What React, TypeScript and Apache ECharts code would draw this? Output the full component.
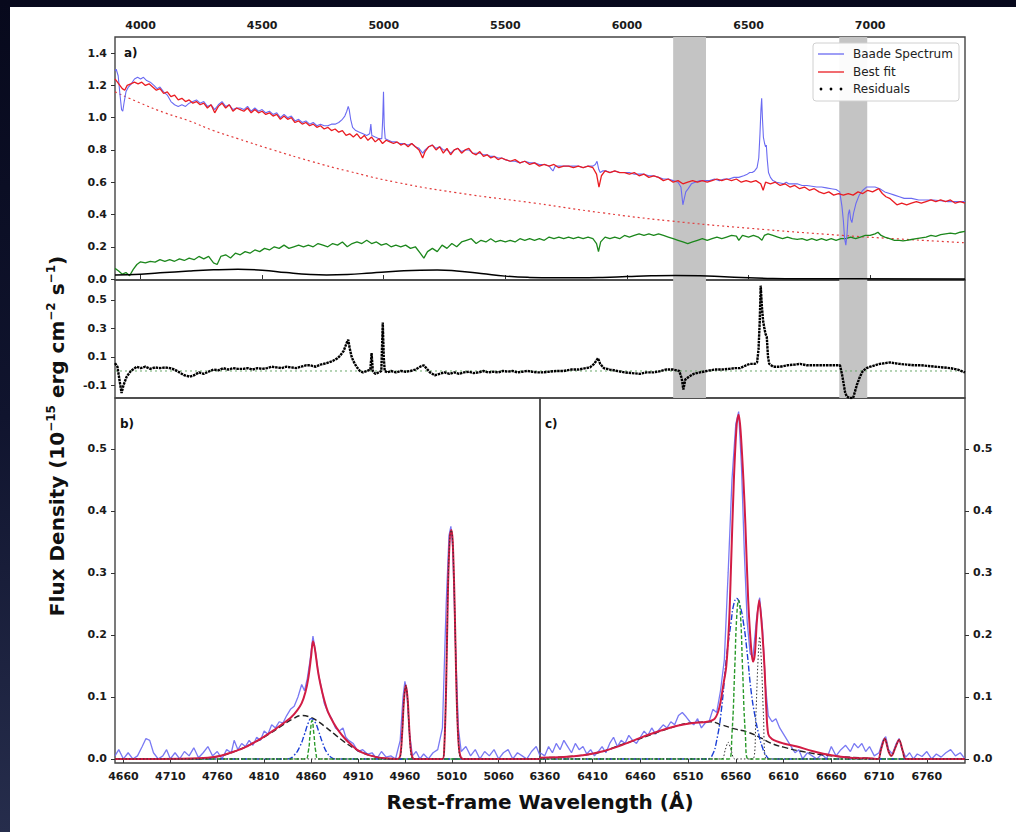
import React, { useEffect, useRef } from "react";
import * as echarts from "echarts";

const FONT = "DejaVu Sans";

// ---------- Panel a) : full spectrum ----------
const topTicksA = [4000, 4500, 5000, 5500, 6000, 6500, 7000];
const yTicksA = [0.0, 0.2, 0.4, 0.6, 0.8, 1.0, 1.2, 1.4];
const telluricBands = [[6190, 6325], [6873, 6988]];

const baadeA: number[][] = [
  [3895,1.29],[3900,1.30],[3908,1.26],[3915,1.15],[3922,1.05],[3927,1.04],[3933,1.10],[3940,1.16],[3950,1.19],[3962,1.21],
  [3975,1.24],[3988,1.25],[4000,1.24],[4012,1.25],[4025,1.23],[4040,1.22],[4055,1.20],[4068,1.18],[4080,1.19],[4095,1.16],
  [4110,1.14],[4125,1.10],[4140,1.08],[4155,1.07],[4170,1.08],[4185,1.07],[4200,1.09],[4215,1.10],[4230,1.11],[4245,1.09],
  [4260,1.10],[4275,1.07],[4290,1.08],[4305,1.05],[4320,1.08],[4335,1.10],[4350,1.07],[4365,1.08],[4380,1.05],[4395,1.06],
  [4410,1.06],[4425,1.05],[4440,1.07],[4455,1.04],[4470,1.06],[4485,1.04],[4500,1.05],[4515,1.03],[4530,1.04],[4545,1.02],
  [4560,1.03],[4575,1.00],[4590,1.02],[4605,1.00],[4620,1.01],[4635,0.98],[4650,0.99],[4665,0.97],[4680,0.98],[4695,0.96],
  [4710,0.97],[4725,0.95],[4740,0.96],[4755,0.95],[4770,0.95],[4785,0.96],[4800,0.96],[4815,0.97],[4830,0.99],[4840,1.01],
  [4848,1.04],[4854,1.07],[4858,1.05],[4864,0.99],[4872,0.94],[4885,0.92],[4900,0.91],[4915,0.90],[4930,0.89],[4942,0.90],
  [4947,0.96],[4951,0.89],[4965,0.88],[4980,0.87],[4992,0.87],[4996,1.00],[4999,1.16],[5002,0.95],[5006,0.87],[5020,0.86],
  [5035,0.85],[5050,0.85],[5065,0.84],[5080,0.84],[5100,0.83],[5115,0.84],[5130,0.82],[5145,0.81],[5160,0.78],[5170,0.80],
  [5185,0.82],[5200,0.83],[5215,0.81],[5230,0.82],[5245,0.80],[5260,0.80],[5275,0.78],[5290,0.80],[5305,0.81],[5320,0.79],
  [5335,0.80],[5350,0.80],[5365,0.78],[5380,0.78],[5395,0.78],[5410,0.77],[5425,0.77],[5440,0.76],[5455,0.76],[5470,0.75],
  [5485,0.75],[5500,0.74],[5520,0.73],[5540,0.73],[5560,0.72],[5580,0.73],[5600,0.72],[5620,0.72],[5640,0.71],[5660,0.71],
  [5680,0.70],[5690,0.68],[5696,0.67],[5705,0.70],[5720,0.70],[5740,0.70],[5760,0.70],[5780,0.70],[5800,0.70],[5820,0.69],
  [5840,0.70],[5860,0.70],[5870,0.71],[5877,0.73],[5884,0.68],[5890,0.66],[5900,0.67],[5915,0.67],[5930,0.66],[5950,0.67],
  [5970,0.66],[5990,0.66],[6010,0.66],[6030,0.65],[6050,0.65],[6070,0.65],[6090,0.64],[6110,0.64],[6130,0.63],[6150,0.62],
  [6170,0.62],[6190,0.61],[6210,0.60],[6222,0.57],[6230,0.46],[6236,0.50],[6242,0.54],[6252,0.56],[6265,0.59],[6280,0.60],
  [6300,0.61],[6320,0.61],[6340,0.61],[6360,0.62],[6380,0.61],[6400,0.62],[6420,0.62],[6440,0.63],[6460,0.63],[6480,0.64],
  [6495,0.65],[6505,0.66],[6515,0.66],[6525,0.67],[6535,0.69],[6542,0.75],[6547,0.90],[6551,1.05],[6554,1.12],[6557,1.00],
  [6561,0.88],[6566,0.84],[6570,0.82],[6573,0.83],[6577,0.74],[6582,0.66],[6590,0.63],[6600,0.61],[6615,0.60],[6630,0.595],
  [6645,0.59],[6655,0.60],[6665,0.59],[6680,0.59],[6700,0.59],[6720,0.58],[6740,0.58],[6760,0.575],[6780,0.57],[6800,0.57],
  [6820,0.565],[6840,0.56],[6860,0.555],[6875,0.54],[6884,0.45],[6890,0.36],[6895,0.25],[6900,0.21],[6905,0.28],[6910,0.40],
  [6915,0.43],[6920,0.37],[6925,0.35],[6932,0.41],[6942,0.47],[6955,0.52],[6970,0.55],[6985,0.57],[7000,0.57],[7020,0.57],
  [7040,0.56],[7060,0.54],[7080,0.53],[7100,0.52],[7120,0.51],[7140,0.50],[7170,0.50],[7200,0.49],[7230,0.49],[7260,0.49],
  [7290,0.485],[7320,0.48],[7350,0.48],[7390,0.48]
];

const bestFitA: number[][] = [
  [3895,1.24],[3905,1.22],[3915,1.20],[3925,1.18],[3935,1.17],[3945,1.20],[3960,1.21],[3975,1.22],[3990,1.21],[4005,1.22],
  [4020,1.20],[4035,1.21],[4050,1.19],[4065,1.17],[4080,1.18],[4095,1.15],[4110,1.16],[4125,1.13],[4140,1.14],[4155,1.11],
  [4170,1.12],[4185,1.10],[4200,1.11],[4215,1.09],[4230,1.10],[4245,1.08],[4260,1.09],[4275,1.06],[4290,1.08],[4305,1.03],
  [4320,1.07],[4335,1.09],[4350,1.06],[4365,1.08],[4380,1.04],[4395,1.06],[4410,1.05],[4425,1.04],[4440,1.06],[4455,1.03],
  [4470,1.05],[4485,1.03],[4500,1.04],[4515,1.02],[4530,1.03],[4545,1.01],[4560,1.02],[4575,0.99],[4590,1.01],[4605,0.99],
  [4620,1.00],[4635,0.97],[4650,0.98],[4665,0.96],[4680,0.97],[4695,0.95],[4710,0.96],[4725,0.94],[4740,0.95],[4755,0.93],
  [4770,0.94],[4785,0.92],[4800,0.93],[4815,0.91],[4830,0.92],[4845,0.89],[4860,0.90],[4875,0.88],[4890,0.90],[4905,0.87],
  [4920,0.89],[4935,0.86],[4950,0.88],[4965,0.85],[4980,0.87],[4995,0.84],[5010,0.86],[5025,0.85],[5040,0.84],[5055,0.85],
  [5070,0.83],[5085,0.84],[5100,0.82],[5115,0.84],[5130,0.82],[5145,0.80],[5160,0.75],[5170,0.79],[5185,0.82],[5200,0.83],
  [5215,0.80],[5230,0.82],[5245,0.78],[5260,0.81],[5275,0.77],[5290,0.80],[5305,0.81],[5320,0.78],[5335,0.80],[5350,0.81],
  [5365,0.78],[5380,0.77],[5395,0.79],[5410,0.76],[5425,0.77],[5440,0.75],[5455,0.76],[5470,0.74],[5485,0.75],[5500,0.74],
  [5520,0.73],[5540,0.74],[5560,0.72],[5580,0.73],[5600,0.71],[5620,0.72],[5640,0.70],[5660,0.71],[5680,0.70],[5700,0.71],
  [5720,0.69],[5740,0.70],[5760,0.70],[5780,0.69],[5800,0.70],[5820,0.69],[5840,0.70],[5860,0.69],[5875,0.65],[5885,0.57],
  [5895,0.64],[5910,0.67],[5930,0.66],[5950,0.67],[5970,0.66],[5990,0.66],[6010,0.65],[6030,0.66],[6050,0.64],[6070,0.65],
  [6090,0.63],[6110,0.64],[6130,0.63],[6150,0.61],[6170,0.62],[6190,0.60],[6210,0.61],[6230,0.59],[6250,0.60],[6270,0.61],
  [6290,0.60],[6310,0.61],[6330,0.60],[6350,0.61],[6370,0.62],[6390,0.61],[6410,0.62],[6430,0.61],[6450,0.62],[6470,0.60],
  [6490,0.61],[6510,0.60],[6530,0.61],[6550,0.59],[6560,0.55],[6570,0.60],[6590,0.59],[6610,0.60],[6630,0.58],[6650,0.59],
  [6670,0.57],[6690,0.58],[6710,0.56],[6730,0.57],[6750,0.55],[6770,0.56],[6790,0.54],[6810,0.53],[6830,0.54],[6850,0.52],
  [6870,0.53],[6890,0.52],[6910,0.53],[6930,0.52],[6950,0.54],[6970,0.53],[6990,0.55],[7010,0.54],[7035,0.56],[7050,0.53],
  [7065,0.51],[7080,0.50],[7095,0.48],[7110,0.46],[7130,0.47],[7150,0.46],[7170,0.47],[7190,0.48],[7210,0.47],[7230,0.48],
  [7250,0.49],[7270,0.48],[7290,0.49],[7310,0.48],[7330,0.49],[7350,0.47],[7370,0.48],[7390,0.47]
];

const powerLawA: number[][] = [
  [3895,1.16],[4000,1.09],[4100,1.03],[4200,0.98],[4300,0.92],[4400,0.87],[4545,0.80],[4700,0.73],[4850,0.67],[5050,0.60],
  [5300,0.535],[5622,0.47],[5900,0.41],[6177,0.36],[6500,0.315],[6888,0.27],[7100,0.25],[7390,0.225]
];

const hostA: number[][] = [
  [3895,0.066],[3910,0.05],[3925,0.03],[3940,0.04],[3955,0.02],[3970,0.06],[3985,0.09],[4000,0.107],[4020,0.10],[4040,0.11],
  [4060,0.105],[4080,0.12],[4100,0.11],[4120,0.12],[4140,0.11],[4160,0.125],[4180,0.115],[4200,0.13],[4220,0.12],[4240,0.14],
  [4260,0.125],[4280,0.14],[4300,0.10],[4315,0.09],[4330,0.14],[4350,0.15],[4370,0.13],[4390,0.16],[4410,0.15],[4430,0.17],
  [4450,0.16],[4470,0.18],[4490,0.17],[4510,0.19],[4530,0.18],[4550,0.20],[4570,0.19],[4590,0.21],[4610,0.19],[4630,0.20],
  [4650,0.21],[4670,0.20],[4690,0.21],[4710,0.20],[4730,0.22],[4750,0.21],[4770,0.20],[4790,0.22],[4810,0.21],[4830,0.23],
  [4850,0.20],[4870,0.22],[4890,0.23],[4910,0.22],[4930,0.24],[4950,0.22],[4970,0.23],[4990,0.21],[5010,0.22],[5030,0.20],
  [5050,0.21],[5070,0.20],[5090,0.21],[5110,0.19],[5130,0.20],[5150,0.16],[5165,0.13],[5180,0.17],[5200,0.19],[5220,0.17],
  [5240,0.21],[5260,0.19],[5280,0.22],[5300,0.20],[5320,0.23],[5340,0.24],[5360,0.25],[5380,0.22],[5400,0.24],[5420,0.23],
  [5440,0.25],[5460,0.23],[5480,0.24],[5500,0.23],[5520,0.24],[5540,0.23],[5560,0.25],[5580,0.24],[5600,0.25],[5620,0.24],
  [5640,0.25],[5660,0.24],[5680,0.26],[5700,0.25],[5720,0.26],[5740,0.25],[5760,0.26],[5780,0.25],[5800,0.26],[5820,0.25],
  [5840,0.26],[5860,0.25],[5875,0.22],[5883,0.17],[5892,0.23],[5910,0.26],[5930,0.25],[5950,0.26],[5970,0.25],[5990,0.27],
  [6010,0.26],[6030,0.27],[6050,0.28],[6070,0.27],[6090,0.28],[6110,0.27],[6130,0.28],[6150,0.27],[6170,0.26],[6190,0.25],
  [6210,0.24],[6230,0.23],[6250,0.22],[6270,0.23],[6290,0.24],[6310,0.25],[6330,0.24],[6350,0.25],[6370,0.26],[6390,0.25],
  [6410,0.26],[6430,0.27],[6450,0.266],[6460,0.24],[6475,0.27],[6500,0.26],[6520,0.27],[6540,0.26],[6555,0.24],[6565,0.27],
  [6580,0.28],[6600,0.27],[6620,0.26],[6640,0.25],[6660,0.26],[6680,0.25],[6700,0.246],[6720,0.25],[6740,0.24],[6760,0.25],
  [6780,0.24],[6800,0.25],[6820,0.24],[6840,0.25],[6860,0.24],[6880,0.25],[6900,0.25],[6920,0.26],[6940,0.25],[6960,0.26],
  [6980,0.27],[7000,0.27],[7020,0.28],[7032,0.29],[7045,0.27],[7060,0.26],[7080,0.25],[7100,0.24],[7120,0.24],[7135,0.237],
  [7150,0.24],[7170,0.245],[7190,0.25],[7210,0.255],[7230,0.26],[7250,0.27],[7270,0.265],[7290,0.275],[7310,0.28],[7330,0.285],
  [7350,0.28],[7370,0.29],[7390,0.295]
];

const feiiA: number[][] = [
  [3895,0.025],[4000,0.03],[4100,0.04],[4200,0.05],[4300,0.057],[4400,0.06],[4500,0.055],[4600,0.04],[4700,0.028],[4765,0.025],
  [4850,0.028],[4950,0.038],[5050,0.048],[5150,0.055],[5220,0.056],[5300,0.05],[5400,0.035],[5500,0.018],[5600,0.01],[5700,0.008],
  [5800,0.008],[5900,0.01],[6000,0.015],[6100,0.02],[6200,0.022],[6300,0.02],[6400,0.014],[6500,0.008],[6600,0.004],[6700,0.002],
  [6900,0.001],[7390,0.0]
];

// ---------- Residuals ----------
const residTicks = [-0.1, 0.1, 0.3, 0.5];
const residuals: number[][] = [
  [3895,0.055],[3905,0.03],[3915,-0.08],[3922,-0.155],[3930,-0.10],[3943,-0.04],[3960,0.0],[3984,0.03],[4000,0.02],[4020,0.03],
  [4040,0.015],[4060,0.025],[4080,0.02],[4100,0.025],[4121,0.02],[4140,0.01],[4160,-0.01],[4180,-0.03],[4203,-0.04],[4220,-0.03],
  [4240,-0.01],[4260,-0.02],[4286,0.0],[4300,0.01],[4320,0.005],[4340,0.02],[4360,0.01],[4380,0.02],[4400,0.015],[4422,0.015],
  [4440,0.02],[4460,0.01],[4480,0.02],[4500,0.015],[4520,0.02],[4540,0.03],[4560,0.025],[4580,0.02],[4600,0.03],[4620,0.025],
  [4640,0.02],[4660,0.03],[4680,0.04],[4697,0.04],[4720,0.03],[4740,0.045],[4765,0.055],[4790,0.07],[4810,0.09],[4820,0.107],
  [4835,0.14],[4848,0.20],[4854,0.22],[4860,0.16],[4868,0.10],[4875,0.07],[4888,0.03],[4902,0.0],[4915,-0.01],[4930,0.0],
  [4945,0.01],[4950,0.126],[4955,0.0],[4965,-0.02],[4980,-0.01],[4990,0.0],[4996,0.34],[5000,0.10],[5004,0.0],[5015,-0.01],
  [5030,0.0],[5050,-0.01],[5070,0.0],[5090,-0.005],[5110,0.0],[5130,0.01],[5150,0.03],[5165,0.04],[5175,0.02],[5190,-0.01],
  [5210,-0.03],[5230,-0.02],[5250,-0.01],[5270,-0.02],[5290,-0.01],[5310,-0.02],[5330,-0.01],[5350,-0.005],[5370,-0.015],[5390,-0.01],
  [5410,0.0],[5430,-0.01],[5450,-0.005],[5470,-0.01],[5490,0.0],[5510,-0.005],[5530,0.0],[5550,-0.01],[5570,-0.005],[5590,0.0],
  [5610,-0.005],[5630,-0.01],[5650,-0.01],[5680,-0.005],[5710,0.0],[5740,0.0],[5770,0.01],[5800,0.01],[5830,0.02],[5848,0.025],
  [5865,0.05],[5881,0.09],[5890,0.05],[5905,0.02],[5930,0.01],[5960,0.0],[5990,-0.01],[6020,-0.015],[6054,-0.02],[6080,-0.01],
  [6110,-0.01],[6140,0.0],[6160,0.01],[6190,0.01],[6215,0.0],[6225,-0.05],[6232,-0.13],[6240,-0.06],[6255,-0.04],[6275,-0.02],
  [6300,-0.01],[6328,0.0],[6360,0.01],[6390,0.01],[6420,0.015],[6445,0.02],[6465,0.02],[6490,0.04],[6505,0.05],[6525,0.05],
  [6535,0.06],[6541,0.15],[6546,0.35],[6550,0.60],[6555,0.45],[6560,0.35],[6565,0.30],[6570,0.26],[6575,0.24],[6580,0.10],
  [6585,0.05],[6601,0.03],[6630,0.03],[6660,0.04],[6690,0.045],[6712,0.05],[6740,0.04],[6770,0.04],[6800,0.04],[6830,0.04],
  [6860,0.04],[6876,0.04],[6884,-0.02],[6890,-0.08],[6897,-0.15],[6904,-0.18],[6915,-0.19],[6930,-0.19],[6945,-0.10],[6958,-0.04],
  [6970,0.0],[6985,0.02],[7000,0.03],[7020,0.04],[7040,0.05],[7060,0.055],[7082,0.06],[7100,0.055],[7120,0.05],[7150,0.045],
  [7180,0.04],[7210,0.04],[7240,0.035],[7270,0.03],[7300,0.025],[7330,0.02],[7360,0.01],[7390,-0.01]
];
const residZero: number[][] = [[3895,0],[7390,0]];

// ---------- Panel b) : Hbeta + [OIII] ----------
const xTicksB = [4660, 4710, 4760, 4810, 4860, 4910, 4960, 5010, 5060];
const yTicksBC = [0.0, 0.1, 0.2, 0.3, 0.4, 0.5];
const specB: number[][] = [
  [4651,0.005],[4655,0.015],[4660,0.0],[4665,0.01],[4670,0.0],[4675,0.005],[4680,0.02],[4684,0.033],[4688,0.03],[4692,0.01],
  [4697,0.0],[4702,0.005],[4706,0.015],[4710,0.0],[4715,0.01],[4720,0.0],[4725,0.012],[4730,0.005],[4735,0.018],[4740,0.002],
  [4745,0.01],[4750,0.02],[4755,0.005],[4760,0.012],[4765,0.0],[4770,0.015],[4775,0.01],[4778,0.03],[4782,0.015],[4786,0.025],
  [4790,0.02],[4794,0.03],[4798,0.022],[4802,0.035],[4806,0.03],[4810,0.045],[4814,0.04],[4818,0.055],[4822,0.05],[4826,0.06],
  [4830,0.058],[4834,0.07],[4838,0.08],[4842,0.085],[4846,0.10],[4850,0.12],[4853,0.11],[4856,0.13],[4859,0.16],[4862,0.198],
  [4865,0.17],[4868,0.135],[4871,0.115],[4874,0.09],[4878,0.075],[4882,0.065],[4886,0.05],[4890,0.045],[4894,0.05],[4897,0.035],
  [4900,0.03],[4905,0.025],[4910,0.012],[4915,0.015],[4920,0.008],[4925,0.01],[4930,0.0],[4935,0.012],[4940,0.003],[4945,0.005],
  [4950,0.0],[4955,0.03],[4958,0.10],[4960,0.125],[4962,0.11],[4965,0.04],[4968,0.005],[4972,0.012],[4976,0.0],[4980,0.008],
  [4985,0.0],[4990,0.01],[4995,0.015],[5000,0.05],[5004,0.25],[5007,0.36],[5009,0.375],[5011,0.34],[5014,0.18],[5017,0.05],
  [5020,0.012],[5025,0.02],[5030,0.005],[5035,0.015],[5040,0.0],[5045,0.012],[5050,0.005],[5055,0.015],[5060,0.0],[5065,0.01],
  [5070,0.015],[5075,0.0],[5080,0.01],[5085,0.005],[5090,0.0],[5095,0.012],[5100,0.02],[5104,0.005]
];
const fitB: number[][] = [
  [4651,0],[4700,0],[4740,0.001],[4760,0.004],[4770,0.008],[4780,0.013],[4790,0.019],[4800,0.027],[4810,0.036],[4820,0.046],
  [4830,0.057],[4838,0.066],[4845,0.078],[4850,0.090],[4854,0.108],[4857,0.13],[4860,0.165],[4862,0.19],[4864,0.178],[4867,0.145],
  [4870,0.12],[4874,0.095],[4878,0.076],[4884,0.058],[4890,0.044],[4896,0.033],[4902,0.024],[4910,0.014],[4920,0.007],[4930,0.003],
  [4940,0.001],[4952,0],[4955,0.005],[4957,0.04],[4959,0.095],[4961,0.119],[4963,0.095],[4965,0.04],[4967,0.008],[4970,0],
  [5000,0],[5002,0.02],[5004,0.12],[5006,0.28],[5008,0.36],[5009.5,0.369],[5011,0.35],[5013,0.25],[5015,0.11],[5017,0.03],
  [5019,0.005],[5022,0],[5104,0]
];
const broadB: number[][] = [
  [4651,0],[4740,0.0],[4760,0.004],[4780,0.013],[4800,0.027],[4815,0.04],[4830,0.055],[4840,0.064],[4850,0.07],[4858,0.068],
  [4866,0.062],[4875,0.052],[4885,0.04],[4895,0.028],[4905,0.018],[4915,0.01],[4930,0.003],[4945,0.0],[5104,0]
];
const interB: number[][] = [
  [4651,0],[4835,0],[4842,0.006],[4848,0.02],[4853,0.04],[4857,0.058],[4860,0.065],[4864,0.06],[4868,0.045],[4872,0.027],
  [4877,0.01],[4882,0.002],[4886,0],[5104,0]
];
const narrowB: number[][] = [
  [4651,0],[4854,0],[4857,0.012],[4859,0.04],[4861,0.062],[4863,0.04],[4865,0.012],[4868,0],[5104,0]
];
const oiiiB: number[][] = [
  [4651,0],[4953,0],[4957,0.04],[4959,0.095],[4961,0.119],[4963,0.095],[4965,0.04],[4969,0],[5000,0],[5002,0.02],
  [5004,0.12],[5006,0.28],[5008,0.36],[5009.5,0.369],[5011,0.35],[5013,0.25],[5015,0.11],[5017,0.03],[5021,0],[5104,0]
];

// ---------- Panel c) : Halpha + [NII] + [SII] ----------
const xTicksC = [6360, 6410, 6460, 6510, 6560, 6610, 6660, 6710, 6760];
const specC: number[][] = [
  [6355,0.01],[6360,0.005],[6364,0.02],[6368,0.01],[6372,0.025],[6376,0.015],[6380,0.03],[6384,0.02],[6388,0.01],[6392,0.025],
  [6396,0.015],[6400,0.02],[6404,0.008],[6408,0.015],[6412,0.005],[6416,0.012],[6420,0.02],[6424,0.01],[6428,0.025],[6432,0.035],
  [6436,0.02],[6440,0.03],[6444,0.025],[6448,0.038],[6452,0.03],[6456,0.025],[6460,0.035],[6464,0.045],[6468,0.038],[6472,0.05],
  [6476,0.04],[6480,0.048],[6484,0.055],[6488,0.05],[6492,0.06],[6496,0.055],[6500,0.07],[6504,0.075],[6508,0.068],[6512,0.06],
  [6516,0.055],[6520,0.065],[6524,0.05],[6528,0.058],[6532,0.06],[6536,0.08],[6540,0.075],[6544,0.11],[6548,0.16],[6552,0.30],
  [6556,0.45],[6560,0.54],[6563,0.56],[6566,0.47],[6569,0.33],[6572,0.22],[6575,0.17],[6578,0.165],[6582,0.23],[6585,0.26],
  [6588,0.21],[6591,0.12],[6594,0.07],[6598,0.06],[6602,0.065],[6606,0.05],[6610,0.04],[6614,0.03],[6618,0.02],[6622,0.01],
  [6626,0.015],[6630,0.0],[6635,0.01],[6640,0.005],[6645,0.0],[6650,0.008],[6655,0.0],[6660,0.02],[6665,0.005],[6670,0.015],
  [6675,0.022],[6680,0.012],[6684,0.025],[6688,0.018],[6692,0.025],[6696,0.012],[6700,0.02],[6705,0.005],[6710,0.01],[6714,0.03],
  [6717,0.036],[6720,0.015],[6724,0.008],[6728,0.025],[6731,0.033],[6734,0.015],[6738,0.003],[6742,0.01],[6746,0.0],[6750,0.008],
  [6755,0.004],[6760,0.012],[6765,0.0],[6770,0.008],[6775,0.003],[6780,0.01],[6785,0.015],[6790,0.005],[6795,0.01],[6800,0.0]
];
const fitC: number[][] = [
  [6355,0.002],[6380,0.003],[6400,0.006],[6420,0.012],[6440,0.022],[6460,0.034],[6480,0.045],[6500,0.054],[6515,0.058],[6530,0.06],
  [6538,0.065],[6543,0.084],[6547,0.12],[6550,0.149],[6553,0.22],[6555,0.31],[6558,0.45],[6561,0.54],[6563,0.555],[6565,0.53],
  [6568,0.45],[6570,0.38],[6573,0.256],[6576,0.18],[6578,0.157],[6580,0.17],[6582,0.22],[6584.5,0.256],[6587,0.22],[6590,0.15],
  [6592,0.08],[6594,0.04],[6598,0.032],[6610,0.025],[6624,0.02],[6640,0.013],[6660,0.006],[6680,0.002],[6700,0.001],[6709,0.0],
  [6712,0.015],[6716,0.033],[6720,0.012],[6723,0.005],[6727,0.018],[6731,0.031],[6735,0.012],[6738,0.0],[6800,0]
];
const broadC: number[][] = [
  [6355,0.002],[6400,0.006],[6450,0.028],[6500,0.054],[6520,0.059],[6533,0.06],[6545,0.055],[6560,0.048],[6571,0.044],[6585,0.035],
  [6596,0.026],[6610,0.019],[6630,0.012],[6660,0.005],[6690,0.002],[6720,0.0],[6800,0]
];
const interC: number[][] = [
  [6355,0],[6530,0],[6535,0.005],[6540,0.03],[6545,0.08],[6550,0.16],[6555,0.22],[6558,0.25],[6561,0.259],[6564,0.25],
  [6568,0.22],[6572,0.17],[6576,0.11],[6580,0.07],[6584,0.04],[6588,0.018],[6592,0.005],[6596,0],[6800,0]
];
const narrowC: number[][] = [
  [6355,0],[6553,0],[6556,0.04],[6559,0.15],[6561,0.23],[6563,0.256],[6565,0.23],[6567,0.15],[6570,0.04],[6573,0],[6800,0]
];
const niiC: number[][] = [
  [6355,0],[6545,0],[6549,0.015],[6552,0.027],[6555,0.015],[6559,0],[6578,0],[6581,0.07],[6583,0.15],[6585,0.197],
  [6587,0.15],[6589,0.07],[6592,0],[6709,0],[6712,0.015],[6716,0.033],[6720,0.012],[6723,0.005],[6727,0.018],[6731,0.031],
  [6735,0.012],[6738,0],[6800,0]
];

// ---------- styling helpers ----------
const LABEL = { fontFamily: FONT, fontSize: 11, fontWeight: "bold" as const, color: "#1a1a1a" };
const TICK = { show: true, length: 4, lineStyle: { color: "#333", width: 1 } };
const GRIDSTYLE = { show: true, borderColor: "#444", borderWidth: 1.4, backgroundColor: "transparent" };
const fmt1 = (v: number) => v.toFixed(1);
const fmtInt = (v: number) => String(Math.round(v));

function line(name: string, data: number[][], xi: number, color: string, width: number, type: any = "solid", extra: any = {}) {
  return {
    name, type: "line", data, xAxisIndex: xi, yAxisIndex: xi,
    showSymbol: false, symbol: "none", silent: true,
    lineStyle: { color, width, type },
    ...extra,
  };
}

const BLUE_SPEC = "#6a6af2";
const RED = "#ea1c22";
const CRIMSON = "#d21c44";

const option: any = {
  animation: false,
  backgroundColor: "transparent",
  grid: [
    { left: 115, top: 37, width: 850, height: 243, ...GRIDSTYLE },
    { left: 115, top: 280, width: 850, height: 118, ...GRIDSTYLE },
    { left: 115, top: 398, width: 425, height: 365, ...GRIDSTYLE },
    { left: 540, top: 398, width: 425, height: 365, ...GRIDSTYLE },
  ],
  xAxis: [
    {
      gridIndex: 0, type: "value", min: 3895, max: 7390, position: "top",
      axisLine: { show: false }, splitLine: { show: false },
      axisTick: { ...TICK, customValues: topTicksA },
      axisLabel: { ...LABEL, margin: 6, customValues: topTicksA, formatter: fmtInt },
    },
    {
      gridIndex: 1, type: "value", min: 3895, max: 7390,
      axisLine: { show: false }, splitLine: { show: false },
      axisTick: { show: false }, axisLabel: { show: false },
    },
    {
      gridIndex: 2, type: "value", min: 4651, max: 5104,
      axisLine: { show: false }, splitLine: { show: false },
      axisTick: { ...TICK, customValues: xTicksB },
      axisLabel: { ...LABEL, margin: 8, customValues: xTicksB, formatter: fmtInt },
    },
    {
      gridIndex: 3, type: "value", min: 6355, max: 6800,
      axisLine: { show: false }, splitLine: { show: false },
      axisTick: { ...TICK, customValues: xTicksC },
      axisLabel: { ...LABEL, margin: 8, customValues: xTicksC, formatter: fmtInt },
    },
  ],
  yAxis: [
    {
      gridIndex: 0, type: "value", min: -0.006, max: 1.5,
      axisLine: { show: false }, splitLine: { show: false },
      axisTick: { ...TICK, customValues: yTicksA },
      axisLabel: { ...LABEL, margin: 8, customValues: yTicksA, formatter: fmt1 },
    },
    {
      gridIndex: 1, type: "value", min: -0.19, max: 0.64,
      axisLine: { show: false }, splitLine: { show: false },
      axisTick: { ...TICK, customValues: residTicks },
      axisLabel: { ...LABEL, margin: 8, customValues: residTicks, formatter: fmt1 },
    },
    {
      gridIndex: 2, type: "value", min: -0.0065, max: 0.582,
      axisLine: { show: false }, splitLine: { show: false },
      axisTick: { ...TICK, customValues: yTicksBC },
      axisLabel: { ...LABEL, margin: 8, customValues: yTicksBC, formatter: fmt1 },
    },
    {
      gridIndex: 3, type: "value", min: -0.0065, max: 0.582, position: "right",
      axisLine: { show: false }, splitLine: { show: false },
      axisTick: { ...TICK, customValues: yTicksBC },
      axisLabel: { ...LABEL, margin: 8, customValues: yTicksBC, formatter: fmt1 },
    },
  ],
  series: [
    line("bandsA", [[3895, 0]], 0, "transparent", 0, "solid", {
      z: 1,
      markArea: { silent: true, itemStyle: { color: "#c4c4c4" }, data: telluricBands.map(([a, b]) => [{ xAxis: a }, { xAxis: b }]) },
    }),
    line("bandsR", [[3895, 0]], 1, "transparent", 0, "solid", {
      z: 1,
      markArea: { silent: true, itemStyle: { color: "#c4c4c4" }, data: telluricBands.map(([a, b]) => [{ xAxis: a }, { xAxis: b }]) },
    }),
    line("Power law", powerLawA, 0, "#e23a3a", 1.2, [2, 3], { smooth: true }),
    line("Host", hostA, 0, "#1c871c", 1.3),
    line("FeII", feiiA, 0, "#000", 1.5, "solid", { smooth: true }),
    line("Baade Spectrum", baadeA, 0, BLUE_SPEC, 1.1),
    line("Best fit", bestFitA, 0, RED, 1.3),
    line("zero", residZero, 1, "#6aa86a", 1, [2, 3]),
    line("Residuals", residuals, 1, "#000", 2.4, [2.5, 0.8]),
    line("specB", specB, 2, BLUE_SPEC, 1.3, "solid", { lineStyle: { color: BLUE_SPEC, width: 1.3, opacity: 0.9 } }),
    line("broadB", broadB, 2, "#222", 1.4, [6, 3], { smooth: true }),
    line("interB", interB, 2, "#1b3fd6", 1.4, [6, 2, 1.5, 2], { smooth: true }),
    line("narrowB", narrowB, 2, "#2a9a2a", 1.4, [4, 2], { smooth: true }),
    line("fitB", fitB, 2, CRIMSON, 2, "solid", { smooth: 0.3 }),
    line("oiiiB", oiiiB, 2, "#333", 1, [1.5, 2], { smooth: 0.3 }),
    line("specC", specC, 3, BLUE_SPEC, 1.3, "solid", { lineStyle: { color: BLUE_SPEC, width: 1.3, opacity: 0.9 } }),
    line("broadC", broadC, 3, "#222", 1.4, [6, 3], { smooth: true }),
    line("interC", interC, 3, "#1b3fd6", 1.4, [6, 2, 1.5, 2], { smooth: true }),
    line("narrowC", narrowC, 3, "#2a9a2a", 1.4, [4, 2], { smooth: true }),
    line("fitC", fitC, 3, CRIMSON, 2, "solid", { smooth: 0.3 }),
    line("niiC", niiC, 3, "#333", 1, [1.5, 2], { smooth: 0.3 }),
  ],
  graphic: [
    { type: "text", z: 100, x: 124, y: 53, style: { text: "a)", font: `bold 12px "${FONT}"`, fill: "#111", verticalAlign: "middle" } },
    { type: "text", z: 100, x: 120, y: 424, style: { text: "b)", font: `bold 12px "${FONT}"`, fill: "#111", verticalAlign: "middle" } },
    { type: "text", z: 100, x: 545, y: 424, style: { text: "c)", font: `bold 12px "${FONT}"`, fill: "#111", verticalAlign: "middle" } },
    {
      type: "group", x: 813, y: 43, z: 100, children: [
        { type: "rect", z: 100, shape: { x: 0, y: 0, width: 146, height: 58, r: 3 }, style: { fill: "rgba(255,255,255,0.92)", stroke: "#d0d0d0", lineWidth: 1 } },
        { type: "line", z: 101, shape: { x1: 5, y1: 11, x2: 31, y2: 11 }, style: { stroke: BLUE_SPEC, lineWidth: 1.3 } },
        { type: "text", z: 101, x: 40, y: 11, style: { text: "Baade Spectrum", font: `12px "${FONT}"`, fill: "#222", verticalAlign: "middle" } },
        { type: "line", z: 101, shape: { x1: 5, y1: 29, x2: 31, y2: 29 }, style: { stroke: RED, lineWidth: 1.3 } },
        { type: "text", z: 101, x: 40, y: 29, style: { text: "Best fit", font: `12px "${FONT}"`, fill: "#222", verticalAlign: "middle" } },
        { type: "circle", z: 101, shape: { cx: 8, cy: 46, r: 1.4 }, style: { fill: "#000" } },
        { type: "circle", z: 101, shape: { cx: 18, cy: 46, r: 1.4 }, style: { fill: "#000" } },
        { type: "circle", z: 101, shape: { cx: 28, cy: 46, r: 1.4 }, style: { fill: "#000" } },
        { type: "text", z: 101, x: 40, y: 46, style: { text: "Residuals", font: `12px "${FONT}"`, fill: "#222", verticalAlign: "middle" } },
      ],
    },
    {
      type: "text", x: 57, y: 436, rotation: Math.PI / 2,
      style: {
        text: "{b|Flux Density (10}{s|−15}{b| erg cm}{s|−2}{b| s}{s|−1}{b|)}",
        align: "center", verticalAlign: "middle",
        rich: {
          b: { fontFamily: FONT, fontSize: 20, fontWeight: "bold", fill: "#111", lineHeight: 24 },
          s: { fontFamily: FONT, fontSize: 12, fontWeight: "bold", fill: "#111", verticalAlign: "top", lineHeight: 14 },
        },
      },
    },
    {
      type: "text", x: 540, y: 802,
      style: { text: "Rest-frame Wavelength (Å)", font: `bold 20px "${FONT}"`, fill: "#111", align: "center", verticalAlign: "middle" },
    },
  ],
};

export default function App() {
  const ref = useRef<HTMLDivElement>(null);
  useEffect(() => {
    const chart = echarts.init(ref.current!, null, { renderer: "svg" });
    chart.setOption(option);
    return () => chart.dispose();
  }, []);
  return (
    <div style={{ position: "fixed", left: 0, top: 0, width: 1016, height: 832, overflow: "hidden",
      background: "linear-gradient(180deg, #07091c 0%, #10142e 50%, #262d4c 100%)" }}>
      <div style={{ position: "absolute", left: 10, top: 7, width: 1006, height: 825, background: "#ffffff" }} />
      <div ref={ref} style={{ position: "absolute", left: 0, top: 0, width: 1016, height: 832 }} />
    </div>
  );
}
